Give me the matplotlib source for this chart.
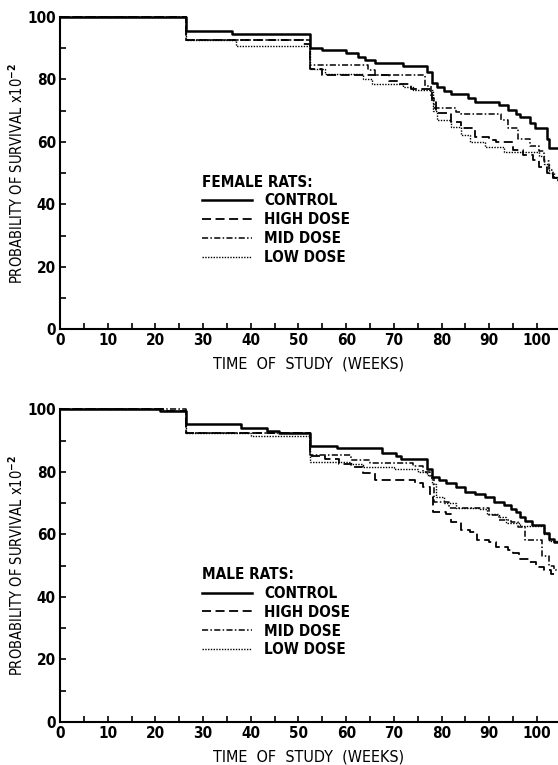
import matplotlib
matplotlib.use("Agg")
import matplotlib.pyplot as plt
from matplotlib.ticker import MultipleLocator

plt.rcParams['font.family'] = ['DejaVu Sans']
plt.rcParams['font.stretch'] = 'condensed'
plt.rcParams['font.weight'] = 'bold'

# ---------------- data: (week, survival x10^-2) step points ----------------
f_control_t = [0, 26.5, 36, 52.5, 55, 60, 62.5, 64, 66, 72, 77, 78, 79, 80.5, 82, 85.5, 87, 92, 94, 95.5, 96.5, 98.5, 99.5, 102, 102.5, 104.4]
f_control_v = [100, 95.5, 94.7, 90.2, 89.3, 88.4, 87.3, 86.2, 85.4, 84.2, 82.3, 79, 77.5, 76.4, 75.5, 74, 72.9, 71.8, 70.2, 69, 68.1, 66, 64.4, 61, 58, 58]

f_high_t = [0, 26.5, 51, 52.5, 55, 69, 71, 73.5, 78, 78.8, 82, 84, 87, 90, 91.5, 95, 97, 99.2, 100.5, 102, 103.3, 104.4]
f_high_v = [100, 92.5, 91.5, 83.5, 81.4, 79.5, 78.5, 76.8, 73, 69.1, 66.5, 64.4, 61.6, 60.6, 60, 57.4, 55.8, 54.2, 52, 50, 48.4, 47.5]

f_mid_t = [0, 26.5, 52.5, 64.5, 66, 76.5, 77.8, 78.5, 83, 84, 92.5, 94, 96, 98.5, 100.5, 101.5, 102.5, 103.3, 104.4]
f_mid_v = [100, 92.5, 84.6, 83, 81.5, 78, 74, 70.8, 69.5, 68.8, 67, 64.5, 60.8, 58.6, 57, 54, 51, 48.4, 47.5]

f_low_t = [0, 26.5, 37, 52.5, 55.5, 63.5, 65.5, 72, 74, 78.3, 79, 82, 84, 86, 89, 93, 100.5, 101.5, 102.5, 103.5, 104.4]
f_low_v = [100, 92.5, 90.7, 83.2, 81.6, 80, 78.4, 77.5, 76.5, 70, 67, 64.9, 62.2, 60, 58.5, 56.9, 55.5, 53, 50, 48.9, 47]

m_control_t = [0, 21, 25.5, 26.5, 38, 43.5, 46, 52.5, 58, 67.5, 70.5, 71.5, 77, 78, 79.5, 81, 83, 85, 87, 89, 91, 93, 94.5, 95.5, 96.5, 97.5, 99, 101.5, 102.5, 103.5, 104.4]
m_control_v = [100, 99.5, 99.5, 95.2, 94, 93, 92.4, 88.3, 87.6, 86.1, 85, 84, 81, 78.5, 77.5, 76.4, 75, 73.7, 72.8, 71.8, 70.4, 69.4, 68, 67, 65.5, 64.2, 63, 60.4, 58.5, 57.5, 57.5]

m_high_t = [0, 21.5, 26.5, 52.5, 55.5, 58.5, 61, 63.5, 66, 74.5, 76, 77.5, 78.3, 81, 82, 84, 86, 87.5, 90, 91.5, 94, 95, 96.3, 98.3, 99.7, 101.4, 103, 104.4]
m_high_v = [100, 99.5, 92.5, 85, 84, 82.5, 81.5, 79.6, 77.4, 76.5, 75, 72, 67.2, 66.5, 64, 61.4, 60.8, 58.3, 57.7, 56, 55, 54, 52.1, 51.3, 49.6, 48.6, 47.2, 47.2]

m_mid_t = [0, 26.5, 52.5, 61, 65, 74, 76, 77.5, 78.5, 81.5, 90, 92, 94.5, 96, 97.5, 101, 102.5, 103.5, 104.4]
m_mid_v = [100, 92.5, 85.3, 83.8, 82.8, 82, 80, 78, 70.3, 68.5, 66.3, 64.7, 64, 62.5, 58.3, 53, 50, 48.5, 48.5]

m_low_t = [0, 21.5, 26.5, 40, 52.5, 57, 61, 63.5, 70, 75, 77, 78, 78.8, 80.5, 83, 88, 89.5, 92, 93.5, 96.5, 101.5, 102.5, 104.4]
m_low_v = [100, 99.5, 92.5, 91.3, 83.3, 83, 82.5, 81.6, 81, 80, 79, 76, 72, 70, 68.5, 68, 66.5, 65.5, 63.7, 62.8, 60, 58, 58]

group_labels = ['CONTROL', 'HIGH DOSE', 'MID DOSE', 'LOW DOSE']
panel_titles = ['FEMALE RATS:', 'MALE RATS:']
x_ticks = [0, 10, 20, 30, 40, 50, 60, 70, 80, 90, 100]
y_ticks = [0, 20, 40, 60, 80, 100]

styles = [
    dict(linestyle='-', linewidth=1.8),
    dict(linestyle=(0, (5, 2.5)), linewidth=1.3),
    dict(linestyle=(0, (4, 1.5, 1, 1.5)), linewidth=1.1),
    dict(linestyle=(0, (1, 1)), linewidth=1.0),
]

fig = plt.figure(figsize=(5.58, 7.65), dpi=100)
ax_top = fig.add_axes([0.1075, 0.5695, 0.8925, 0.4083])
ax_bot = fig.add_axes([0.1075, 0.0562, 0.8925, 0.4088])

panels = [
    (ax_top, [(f_control_t, f_control_v), (f_high_t, f_high_v), (f_mid_t, f_mid_v), (f_low_t, f_low_v)], panel_titles[0]),
    (ax_bot, [(m_control_t, m_control_v), (m_high_t, m_high_v), (m_mid_t, m_mid_v), (m_low_t, m_low_v)], panel_titles[1]),
]

for ax, series, title in panels:
    for (t, v), lab, st in zip(series, group_labels, styles):
        ax.plot(t, v, drawstyle='steps-post', color='black', label=lab, clip_on=False, **st)
    ax.set_xlim(0, 104.4)
    ax.set_ylim(0, 100)
    for s in ['top', 'right']:
        ax.spines[s].set_visible(False)
    for s in ['left', 'bottom']:
        ax.spines[s].set_linewidth(1.5)
    ax.set_xticks(x_ticks)
    ax.set_yticks(y_ticks)
    ax.xaxis.set_minor_locator(MultipleLocator(5))
    ax.yaxis.set_minor_locator(MultipleLocator(10))
    ax.tick_params(which='both', direction='in', length=4, width=1.2, labelsize=11, pad=3)
    ax.set_xlabel('TIME  OF  STUDY  (WEEKS)', fontsize=11.5, labelpad=6)
    ax.set_ylabel('PROBABILITY OF SURVIVAL x10$^{-2}$', fontsize=10.5, labelpad=1)
    leg = ax.legend(title=title, loc='upper left', bbox_to_anchor=(0.272, 0.515),
                    frameon=False, fontsize=11, title_fontsize=11, alignment='left',
                    handlelength=3.3, handletextpad=0.8, labelspacing=0.25, borderaxespad=0)
    leg.get_title().set_fontweight('bold')

fig.savefig('out.png', dpi=100)
